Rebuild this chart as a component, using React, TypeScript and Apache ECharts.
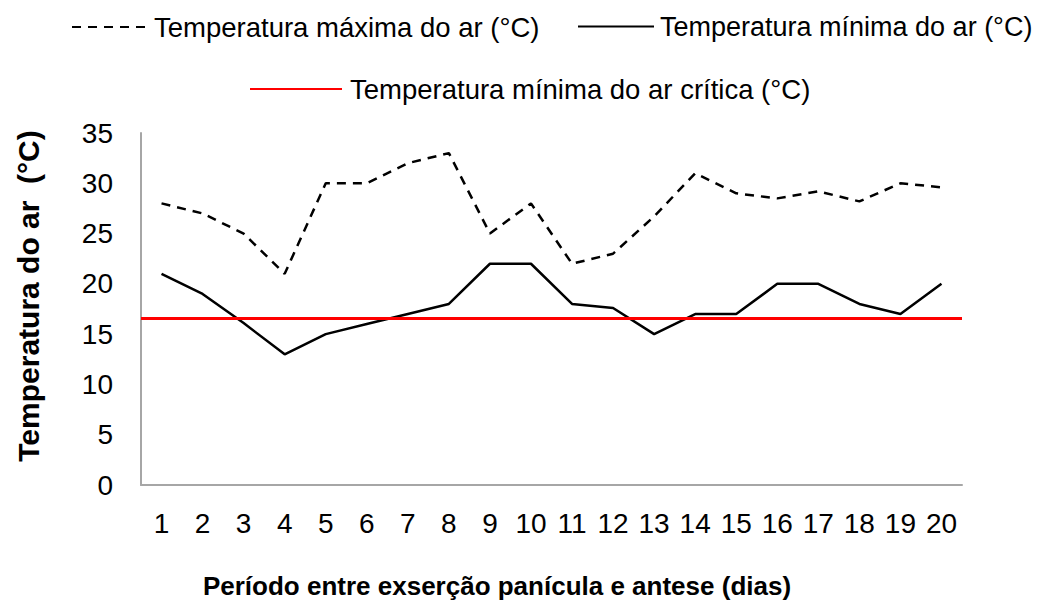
import React, { useEffect, useRef } from "react";
import * as echarts from "echarts";

const days = ["1","2","3","4","5","6","7","8","9","10","11","12","13","14","15","16","17","18","19","20"];
const maxTemp = [28, 27, 25, 21, 30, 30, 32, 33, 25, 28, 22, 23, 26.7, 31, 29, 28.5, 29.2, 28.2, 30, 29.6];
const minTemp = [21, 19, 16.1, 13, 15, 16, 17, 18, 22, 22, 18, 17.6, 15, 17, 17, 20, 20, 18, 17, 20];
const criticalMin = 16.6;
const yTicks = { min: 0, max: 35, interval: 5 };

const nameMax = "Temperatura máxima do ar (°C)";
const nameMin = "Temperatura mínima do ar (°C)";
const nameCrit = "Temperatura mínima do ar crítica (°C)";
const FONT = "'Liberation Sans', Arial, Helvetica, sans-serif";

export default function App() {
  const ref = useRef<HTMLDivElement>(null);
  useEffect(() => {
    if (!ref.current) return;
    const chart = echarts.init(ref.current, null, { renderer: "svg" });
    const legendText = { fontSize: 27.5, color: "#000", fontFamily: FONT, padding: [0, 0, 0, 3] };
    const legendCommon = { itemHeight: 14, itemStyle: { opacity: 0 }, textStyle: legendText };
    chart.setOption({
      animation: false,
      backgroundColor: "#fff",
      textStyle: { fontFamily: FONT },
      legend: [
        { ...legendCommon, data: [nameMax], left: 66, top: 8, itemWidth: 74 },
        {
          ...legendCommon,
          data: [nameMin],
          left: 572,
          top: 8,
          itemWidth: 76,
          textStyle: { ...legendText, fontSize: 27, padding: [0, 0, 0, 1] },
        },
        { ...legendCommon, data: [nameCrit], left: 244, top: 70, itemWidth: 92 },
      ],
      grid: { left: 141, right: 77, top: 133, bottom: 118, containLabel: false },
      xAxis: {
        type: "category",
        data: days,
        boundaryGap: true,
        axisLine: { lineStyle: { color: "#a6a6a6", width: 2 } },
        axisTick: { show: false },
        axisLabel: { color: "#000", fontSize: 28, margin: 24, interval: 0, fontFamily: FONT },
        splitLine: { show: false },
      },
      yAxis: {
        type: "value",
        min: yTicks.min,
        max: yTicks.max,
        interval: yTicks.interval,
        axisLine: { show: true, lineStyle: { color: "#a6a6a6", width: 2 } },
        axisTick: { show: false },
        axisLabel: { color: "#000", fontSize: 28, margin: 28, fontFamily: FONT },
        splitLine: { show: false },
      },
      graphic: [
        {
          type: "text",
          x: 28,
          y: 296,
          rotation: Math.PI / 2,
          style: {
            text: "Temperatura do ar  (°C)",
            font: `bold 30px ${FONT}`,
            fill: "#000",
            textAlign: "center",
            textVerticalAlign: "middle",
          },
        },
        {
          type: "text",
          x: 497,
          y: 586,
          style: {
            text: "Período entre exserção panícula e antese (dias)",
            font: `bold 26px ${FONT}`,
            fill: "#000",
            textAlign: "center",
            textVerticalAlign: "middle",
          },
        },
      ],
      series: [
        {
          name: nameMax,
          type: "line",
          data: maxTemp,
          symbol: "none",
          color: "#000",
          lineStyle: { color: "#000", width: 2.5, type: [9, 7] },
        },
        {
          name: nameMin,
          type: "line",
          data: minTemp,
          symbol: "none",
          color: "#000",
          lineStyle: { color: "#000", width: 2.5 },
        },
        {
          name: nameCrit,
          type: "line",
          data: [],
          symbol: "none",
          color: "#ff0000",
          lineStyle: { color: "#ff0000", width: 3 },
          markLine: {
            silent: true,
            symbol: "none",
            label: { show: false },
            lineStyle: { color: "#ff0000", width: 3, type: "solid" },
            data: [{ yAxis: criticalMin }],
          },
        },
      ],
    });
    return () => chart.dispose();
  }, []);
  return <div ref={ref} style={{ width: 1039, height: 603, position: "absolute", left: 0, top: 0 }} />;
}
